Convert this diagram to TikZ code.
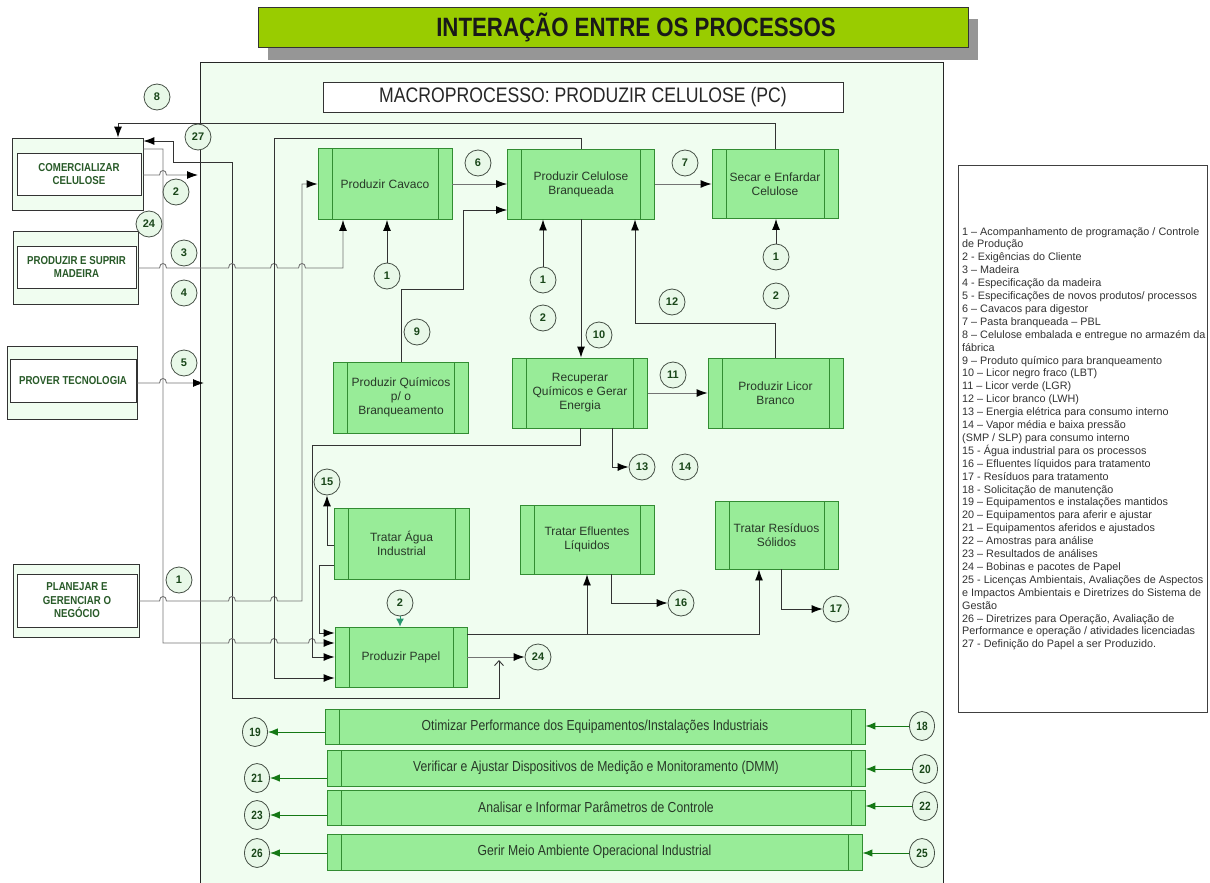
\documentclass[tikz,border=0pt]{standalone}
\usepackage{fontspec}
\setmainfont{Liberation Sans}
\newfontfamily\narrowfont[FakeStretch=0.84]{Liberation Sans}
\usetikzlibrary{arrows.meta,shapes.geometric}

\definecolor{bgmint}{RGB}{240,253,240}
\definecolor{procfill}{RGB}{152,236,152}
\definecolor{procedge}{RGB}{50,140,50}
\definecolor{proctext}{RGB}{40,56,40}
\definecolor{circfill}{RGB}{232,248,232}
\definecolor{circedge}{RGB}{70,80,70}
\definecolor{numtext}{RGB}{25,70,25}
\definecolor{lefttext}{RGB}{40,90,40}
\definecolor{titlefill}{RGB}{153,204,0}
\definecolor{shadowgrey}{RGB}{150,150,150}
\definecolor{flowgreen}{RGB}{20,120,20}
\definecolor{tealhead}{RGB}{40,150,110}
\definecolor{legendtext}{RGB}{50,50,50}

% small bump where a horizontal line jumps over a vertical one
\newcommand\hopat[2]{-- ({#1-3.5},#2) .. controls ({#1-3.5},{#2-6}) and ({#1+3.5},{#2-6}) .. ({#1+3.5},#2)}

\begin{document}
\begin{tikzpicture}[x=1pt,y=-1pt,
  proc/.style={draw=procedge, fill=procfill, line width=0.9pt, inner sep=0pt, align=center,
    text=proctext, font=\fontsize{12}{14}\selectfont,
    path picture={\draw[procedge, line width=0.9pt]
      ([xshift=14pt]path picture bounding box.north west) -- ([xshift=14pt]path picture bounding box.south west)
      ([xshift=-14pt]path picture bounding box.north east) -- ([xshift=-14pt]path picture bounding box.south east);}},
  bar/.style={proc, font=\narrowfont\fontsize{14.5}{16}\selectfont},
  lbox/.style={draw=black!80, fill=bgmint, line width=0.8pt, inner sep=0pt},
  ibox/.style={draw=black!80, fill=white, line width=0.8pt, inner sep=0pt, align=center,
    text=lefttext, font=\narrowfont\bfseries\fontsize{11.5}{13.5}\selectfont},
  circ/.style={circle, draw=circedge, fill=circfill, line width=0.8pt, minimum size=26pt,
    inner sep=0pt, text=numtext, font=\bfseries\fontsize{11}{11}\selectfont},
  ecirc/.style={ellipse, draw=circedge, fill=circfill, line width=0.8pt, minimum width=25pt,
    minimum height=29pt, inner sep=0pt, text=numtext, font=\narrowfont\bfseries\fontsize{12}{12}\selectfont},
  conn/.style={draw=black!80, line width=0.9pt},
  gconn/.style={draw=black!55, line width=0.9pt},
  arr/.style={-{Latex[length=11pt,width=8pt,color=black]}},
  garr/.style={draw=flowgreen, line width=1pt, -{Latex[length=10pt,width=7.5pt]}}
]
\useasboundingbox (0,0) rectangle (1210,883);

% title banner with its drop shadow
\fill[shadowgrey] (268,19) rectangle (978,60);
\node[draw=black!80, fill=titlefill, line width=0.8pt, minimum width=710pt, minimum height=40pt,
  inner sep=0pt] (title) at (613,27) {};
\node[inner sep=0pt, text=black!90, font=\narrowfont\bfseries\fontsize{26.5}{28}\selectfont]
  (titletext) at (636,27) {INTERAÇÃO ENTRE OS PROCESSOS};

% macroprocess area
\draw[black!85, fill=bgmint, line width=0.8pt] (200,62) rectangle (943,900);
\node[draw=black!80, fill=white, line width=0.8pt, minimum width=520pt, minimum height=30pt,
  inner sep=0pt, text=black!85, font=\narrowfont\fontsize{21}{23}\selectfont]
  (macro) at (583,97) {MACROPROCESSO: PRODUZIR CELULOSE (PC)};

% neighbouring macroprocesses
\node[lbox, minimum width=131pt, minimum height=72pt] (com) at (77.5,174) {};
\node[ibox, minimum width=124pt, minimum height=42pt] (comi) at (79,174) {COMERCIALIZAR\\CELULOSE};
\node[lbox, minimum width=125pt, minimum height=73pt] (mad) at (75.5,268) {};
\node[ibox, minimum width=119pt, minimum height=42pt] (madi) at (76.5,267) {PRODUZIR E SUPRIR\\MADEIRA};
\node[lbox, minimum width=130pt, minimum height=73pt] (tec) at (72,383) {};
\node[ibox, minimum width=126pt, minimum height=43pt] (teci) at (73,380.5) {PROVER TECNOLOGIA};
\node[lbox, minimum width=126pt, minimum height=73pt] (pla) at (76,601) {};
\node[ibox, minimum width=120pt, minimum height=53pt] (plai) at (77,600.5) {PLANEJAR E\\GERENCIAR O\\NEGÓCIO};

% processes
\node[proc, minimum width=134pt, minimum height=71pt] (cav) at (385,184) {Produzir Cavaco};
\node[proc, minimum width=147pt, minimum height=70pt] (cel) at (581,184) {Produzir Celulose\\Branqueada};
\node[proc, minimum width=126pt, minimum height=69pt] (sec) at (775,184) {Secar e Enfardar\\Celulose};
\node[proc, minimum width=135pt, minimum height=71pt] (qui) at (401,397.5) {Produzir Químicos\\p/ o\\Branqueamento};
\node[proc, minimum width=135pt, minimum height=70pt] (rec) at (580,393) {Recuperar\\Químicos e Gerar\\Energia};
\node[proc, minimum width=135pt, minimum height=70pt] (lic) at (775.5,393) {Produzir Licor\\Branco};
\node[proc, minimum width=135pt, minimum height=71pt] (agu) at (401.5,543.5) {Tratar Água\\Industrial};
\node[proc, minimum width=134pt, minimum height=69pt] (efl) at (587,539.5) {Tratar Efluentes\\Líquidos};
\node[proc, minimum width=123pt, minimum height=68pt] (res) at (776.5,535) {Tratar Resíduos\\Sólidos};
\node[proc, minimum width=132pt, minimum height=60pt] (pap) at (401,657) {Produzir Papel};

% support processes
\node[bar, minimum width=540pt, minimum height=35pt] (b1) at (595,726.5) {Otimizar Performance dos Equipamentos/Instalações Industriais};
\node[bar, minimum width=538pt, minimum height=36pt] (b2) at (596,768) {Verificar e Ajustar Dispositivos de Medição e Monitoramento (DMM)};
\node[bar, minimum width=538pt, minimum height=35pt] (b3) at (596,807.5) {Analisar e Informar Parâmetros de Controle};
\node[bar, minimum width=535pt, minimum height=36pt] (b4) at (594.5,852) {Gerir Meio Ambiente Operacional Industrial};

% flow numbers
\node[circ] (c8) at (157,97) {8};
\node[circ] (c27) at (198,137) {27};
\node[circ] (c2a) at (176,192) {2};
\node[circ] (c24a) at (149,224) {24};
\node[circ] (c3) at (184,253) {3};
\node[circ] (c4) at (184,293) {4};
\node[circ] (c5) at (184,363) {5};
\node[circ] (c1a) at (179,580) {1};
\node[circ] (c6) at (478,163) {6};
\node[circ] (c7) at (685,163) {7};
\node[circ] (c1b) at (387,276) {1};
\node[circ] (c9) at (417,332) {9};
\node[circ] (c1c) at (543,280) {1};
\node[circ] (c2b) at (543,318) {2};
\node[circ] (c10) at (599,335) {10};
\node[circ] (c12) at (672,302) {12};
\node[circ] (c1d) at (776,257) {1};
\node[circ] (c2c) at (776,296) {2};
\node[circ] (c11) at (673,375) {11};
\node[circ] (c13) at (642,467) {13};
\node[circ] (c14) at (685,467) {14};
\node[circ] (c15) at (327,482) {15};
\node[circ] (c16) at (681,603) {16};
\node[circ] (c17) at (836,609) {17};
\node[circ] (c2d) at (400,603) {2};
\node[circ] (c24b) at (538,657) {24};
\node[ecirc] (c19) at (255,732) {19};
\node[ecirc] (c21) at (257,778) {21};
\node[ecirc] (c23) at (257,815) {23};
\node[ecirc] (c26) at (257,853) {26};
\node[ecirc] (c18) at (922,726) {18};
\node[ecirc] (c20) at (925,769) {20};
\node[ecirc] (c22) at (925,806) {22};
\node[ecirc] (c25) at (922,853) {25};

% connectors from and to the neighbouring macroprocesses
\draw[conn,arr] (sec.north) |- (118,123) -- (118,123 |- com.north);
\draw[conn,{Straight Barb[length=5pt,width=9pt]}-{Latex[length=11pt,width=8pt,color=black]}]
  (499,660) |- (232,698) -- (232,162) -| (173,141) -- (com.east |- 0,141);
\draw[gconn,arr] (com.east |- 0,149) -| (163,643) \hopat{232}{643} \hopat{274}{643} \hopat{312}{643} -- (pap.west |- 0,643);
\draw[gconn,arr] (com.east |- 0,175) \hopat{163}{175} -- (198,175);
\draw[gconn,arr] (mad.east) \hopat{163}{268} \hopat{232}{268} \hopat{274}{268} \hopat{302}{268} -- (343,268) -- (343,268 |- cav.south);
\draw[gconn,arr] (tec.east) \hopat{163}{383} -- (204,383);
\draw[gconn,arr] (pla.east) \hopat{163}{601} \hopat{232}{601} \hopat{274}{601} -- (302,601) |- (cav.west);

% connectors inside the macroprocess
\draw[conn,arr] (cel.north) |- (274,138) -- (274,678) -- (pap.west |- 0,678);
\draw[conn,arr] (agu.west |- 0,565) -| (319,633) -- (pap.west |- 0,633);
\draw[conn,arr] (rec.south) |- (312,445) -- (312,657) -- (pap.west |- 0,657);
\draw[conn,arr] (qui.north) |- (463,289) |- (cel.west |- 0,210);
\draw[gconn,arr] (cav.east) -- (cav.east -| cel.west);
\draw[gconn,arr] (cel.east) -- (cel.east -| sec.west);
\draw[conn,arr] (c1b.north) -- (c1b.north |- cav.south);
\draw[conn,arr] (c1c.north) -- (c1c.north |- cel.south);
\draw[conn,arr] (cel.south) -- (cel.south |- rec.north);
\draw[conn,arr] (lic.north) |- (635,323) -- (635,323 |- cel.south);
\draw[conn,arr] (c1d.north) -- (c1d.north |- sec.south);
\draw[gconn,arr] (rec.east) -- (rec.east -| lic.west);
\draw[conn,arr] (rec.south -| 612,0) |- (c13.west);
\draw[conn,arr] (agu.west |- 0,545) -| (c15.south);
\draw[conn,arr] (pap.east |- 0,634) -- (759,634) -- (759,634 |- res.south);
\draw[conn,arr] (587,634) -- (587,634 |- efl.south);
\draw[conn,arr] (efl.south -| 611,0) |- (c16.west);
\draw[conn,arr] (res.south -| 781,0) |- (c17.west);
\draw[gconn,arr] (pap.east |- 0,657) -- (c24b.west);
\draw[draw=tealhead, line width=0.9pt, -{Latex[length=8pt,width=8pt]}] (c2d.south) -- (c2d.south |- pap.north);

% support process flows
\draw[garr] (b1.west |- c19.east) -- (c19.east);
\draw[garr] (b2.west |- c21.east) -- (c21.east);
\draw[garr] (b3.west |- c23.east) -- (c23.east);
\draw[garr] (b4.west |- c26.east) -- (c26.east);
\draw[garr] (c18.west) -- (c18.west -| b1.east);
\draw[garr] (c20.west) -- (c20.west -| b2.east);
\draw[garr] (c22.west) -- (c22.west -| b3.east);
\draw[garr] (c25.west) -- (c25.west -| b4.east);

% legend
\node[draw=black!75, fill=white, line width=0.8pt, minimum width=249pt, minimum height=547pt,
  inner sep=0pt] (legend) at (1082.5,438.5) {};
\node[anchor=north west, inner sep=0pt, align=left, text=legendtext,
  font=\fontsize{10.8}{12.9}\selectfont] (legtext) at (962,227) {%
1 – Acompanhamento de programação / Controle\\
de Produção\\
2 - Exigências do Cliente\\
3 – Madeira\\
4 - Especificação da madeira\\
5 - Especificações de novos produtos/ processos\\
6 – Cavacos para digestor\\
7 – Pasta branqueada – PBL\\
8 – Celulose embalada e entregue no armazém da\\
fábrica\\
9 – Produto químico para branqueamento\\
10 – Licor negro fraco (LBT)\\
11 – Licor verde (LGR)\\
12 – Licor branco (LWH)\\
13 – Energia elétrica para consumo interno\\
14 – Vapor média e baixa pressão\\
(SMP / SLP) para consumo interno\\
15 - Água industrial para os processos\\
16 – Efluentes líquidos para tratamento\\
17 - Resíduos para tratamento\\
18 - Solicitação de manutenção\\
19 – Equipamentos e instalações mantidos\\
20 – Equipamentos para aferir e ajustar\\
21 – Equipamentos aferidos e ajustados\\
22 – Amostras para análise\\
23 – Resultados de análises\\
24 – Bobinas e pacotes de Papel\\
25 - Licenças Ambientais, Avaliações de Aspectos\\
e Impactos Ambientais e Diretrizes do Sistema de\\
Gestão\\
26 – Diretrizes para Operação, Avaliação de\\
Performance e operação / atividades licenciadas\\
27 - Definição do Papel a ser Produzido.};
\end{tikzpicture}
\end{document}
